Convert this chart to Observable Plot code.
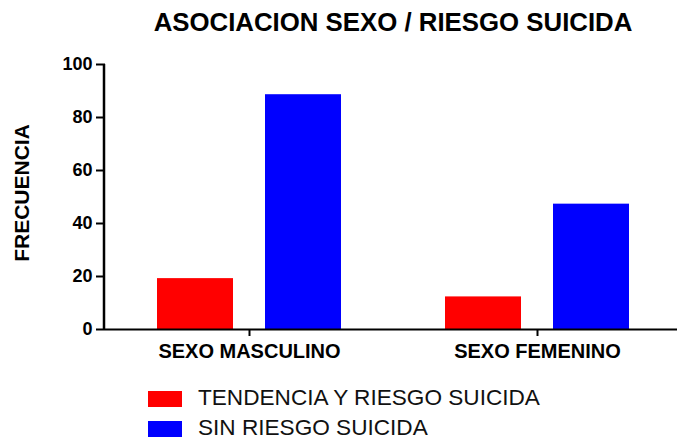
<!DOCTYPE html>
<html>
<head>
<meta charset="utf-8">
<script src="https://cdn.jsdelivr.net/npm/d3@7"></script>
<script src="https://cdn.jsdelivr.net/npm/@observablehq/plot@0.6"></script>
<style>
  html, body { margin: 0; padding: 0; background: #fff; overflow: hidden; }
  #wrap { position: relative; width: 677px; height: 439px; font-family: "Liberation Sans", Arial, Helvetica, sans-serif; color: #000; }
  #title { position: absolute; left: 393px; top: 9.9px; transform: translateX(-50%); white-space: nowrap;
           font-size: 25.8px; font-weight: bold; line-height: 1; }
  #ylabel { position: absolute; left: 20.5px; top: 193px; transform: translate(-50%, -50%) rotate(-90deg);
            white-space: nowrap; font-size: 21px; font-weight: bold; line-height: 1; }
  #chart { position: absolute; left: 0; top: 0; }
  #legend { position: absolute; left: 0; top: 0; }
  .lg-item { position: absolute; white-space: nowrap; font-size: 22.6px; line-height: 1; color: #111; }
  .lg-sw { position: absolute; width: 34px; height: 16px; }
  #chart svg { overflow: visible; }
</style>
</head>
<body>
<div id="wrap">
  <div id="chart"></div>
  <div id="title"></div>
  <div id="ylabel"></div>
  <div id="legend"></div>
</div>
<script>
// ---- data ----
const titleText = "ASOCIACION SEXO / RIESGO SUICIDA";
const yLabel = "FRECUENCIA";
const categories = ["SEXO MASCULINO", "SEXO FEMENINO"];
const seriesNames = ["TENDENCIA Y RIESGO SUICIDA", "SIN RIESGO SUICIDA"];
const tendencia = [19.2, 12.3];
const sinRiesgo = [88.6, 47.3];
const colors = ["#ff0000", "#0000ff"];
const yTicks = [0, 20, 40, 60, 80, 100];

const seriesValues = [tendencia, sinRiesgo];
const data = categories.flatMap((c, i) =>
  seriesNames.map((s, j) => ({sex: c, serie: s, value: seriesValues[j][i]}))
);

const plot = Plot.plot({
  width: 677,
  height: 370,
  marginTop: 64,
  marginBottom: 41,
  marginLeft: 104,
  marginRight: -4,
  style: {fontFamily: "'Liberation Sans', Arial, sans-serif", color: "#000", background: "transparent", overflow: "visible"},
  fx: {domain: categories, padding: 0, label: null, axis: null},
  x: {domain: seriesNames, paddingInner: 0.295, paddingOuter: 0.477, axis: null},
  y: {domain: [0, 100], axis: null},
  color: {domain: seriesNames, range: colors},
  marks: [
    Plot.barY(data, {fx: "sex", x: "serie", y: "value", fill: "serie"}),
    Plot.ruleY([0], {stroke: "#000", strokeWidth: 2}),
    Plot.axisY({ticks: yTicks, tickSize: 9, tickPadding: 4, fontSize: 18, fontWeight: "bold",
                strokeWidth: 2, label: null, tickFormat: d => String(d)}),
    Plot.axisFx({anchor: "bottom", tickSize: 7, tickPadding: 7.5, fontSize: 20, fontWeight: "bold", strokeWidth: 2, label: null})
  ]
});
document.getElementById("chart").appendChild(plot);

// y-axis line drawn through the library's scales
const ys = plot.scale("y");
const fxs = plot.scale("fx");
d3.select(plot).append("line")
  .attr("x1", fxs.range[0]).attr("x2", fxs.range[0])
  .attr("y1", ys.apply(0) + 1).attr("y2", ys.apply(100))
  .attr("stroke", "#000").attr("stroke-width", 2.5);

document.getElementById("title").textContent = titleText;
document.getElementById("ylabel").textContent = yLabel;

// legend
const legend = document.getElementById("legend");
const rowBaselines = [406, 436];
seriesNames.forEach((s, i) => {
  const sw = document.createElement("div");
  sw.className = "lg-sw";
  sw.style.background = colors[i];
  sw.style.left = "148px";
  sw.style.top = (rowBaselines[i] - 15.5) + "px";
  legend.appendChild(sw);
  const t = document.createElement("div");
  t.className = "lg-item";
  t.textContent = s;
  t.style.left = "198px";
  t.style.top = (rowBaselines[i] - 0.8465 * 22.6) + "px";
  legend.appendChild(t);
});
</script>
</body>
</html>
